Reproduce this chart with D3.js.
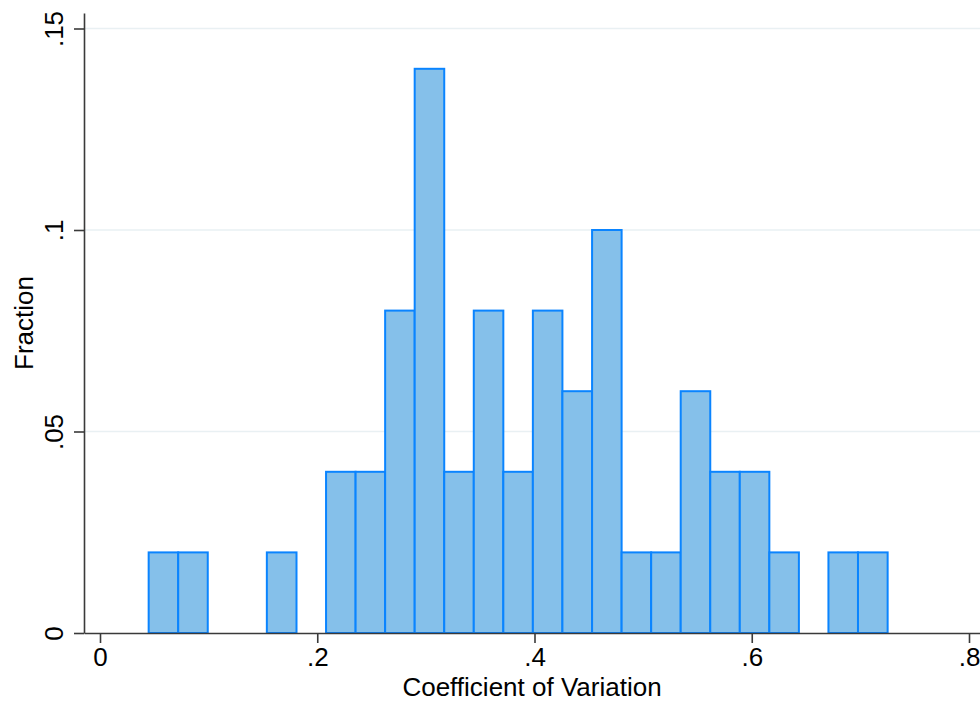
<!DOCTYPE html>
<html>
<head>
<meta charset="utf-8">
<script src="https://cdn.jsdelivr.net/npm/d3@7"></script>
<style>
  html, body { margin: 0; padding: 0; background: #fff; }
  svg { display: block; font-family: "Liberation Sans", Arial, Helvetica, sans-serif; }
</style>
</head>
<body>
<svg id="chart" width="980" height="702"></svg>
<script>
// ---- data ----
const binLower = [0.0448, 0.0720, 0.0992, 0.1264, 0.1536, 0.1809, 0.2081, 0.2353, 0.2625, 0.2897,
                  0.3169, 0.3441, 0.3713, 0.3985, 0.4257, 0.4530, 0.4802, 0.5074, 0.5346, 0.5618,
                  0.5890, 0.6162, 0.6434, 0.6706, 0.6978];
const binUpper = [0.0720, 0.0992, 0.1264, 0.1536, 0.1809, 0.2081, 0.2353, 0.2625, 0.2897, 0.3169,
                  0.3441, 0.3713, 0.3985, 0.4257, 0.4530, 0.4802, 0.5074, 0.5346, 0.5618, 0.5890,
                  0.6162, 0.6434, 0.6706, 0.6978, 0.7251];
const fraction = [0.02, 0.02, 0, 0, 0.02, 0, 0.04, 0.04, 0.08, 0.14,
                  0.04, 0.08, 0.04, 0.08, 0.06, 0.10, 0.02, 0.02, 0.06, 0.04,
                  0.04, 0.02, 0, 0.02, 0.02];
const xTicks = [0, 0.2, 0.4, 0.6, 0.8];
const yTicks = [0, 0.05, 0.1, 0.15];
const xTitle = "Coefficient of Variation";
const yTitle = "Fraction";

// ---- layout ----
const svg = d3.select("#chart");
const axisColor = "#3a3a3a";
const fillColor = "#85c0ea";
const strokeColor = "#0a84ff";
const gridColor = "#e9f0f3";
const fontSize = 26;

const x = d3.scaleLinear().domain([0, 0.8]).range([100, 969]);
const y = d3.scaleLinear().domain([0, 0.15]).range([633, 28.5]);
const plotLeft = 84, plotRight = 980, plotTop = 13, plotBottom = 633;

const fmt = d => d === 0 ? "0" : d3.format("~g")(d).replace(/^0\./, ".");

// gridlines
svg.append("g").selectAll("line")
  .data(yTicks.filter(d => d > 0))
  .join("line")
  .attr("x1", plotLeft).attr("x2", plotRight)
  .attr("y1", d => y(d)).attr("y2", d => y(d))
  .attr("stroke", gridColor).attr("stroke-width", 1.6);

// bars
const bins = binLower.map((lo, i) => ({lo, hi: binUpper[i], v: fraction[i]})).filter(b => b.v > 0);
svg.append("g").selectAll("rect")
  .data(bins)
  .join("rect")
  .attr("x", d => x(d.lo))
  .attr("width", d => x(d.hi) - x(d.lo))
  .attr("y", d => y(d.v))
  .attr("height", d => y(0) - y(d.v))
  .attr("fill", fillColor)
  .attr("stroke", strokeColor)
  .attr("stroke-width", 2);

// x axis
const xAxisScale = d3.scaleLinear().domain([x.invert(plotLeft), x.invert(plotRight)]).range([plotLeft, plotRight]);
const gx = svg.append("g").attr("transform", `translate(0,${plotBottom})`)
  .call(d3.axisBottom(xAxisScale).tickValues(xTicks).tickFormat(fmt).tickSizeInner(10).tickSizeOuter(0).tickPadding(5));
gx.select(".domain").attr("stroke", axisColor).attr("stroke-width", 1.6);
gx.selectAll(".tick line").attr("stroke", axisColor).attr("stroke-width", 1.6);
gx.selectAll(".tick text").attr("fill", "#000").style("font-size", fontSize + "px");

// y axis
const yAxisScale = d3.scaleLinear().domain([0, y.invert(plotTop)]).range([plotBottom, plotTop]);
const gy = svg.append("g").attr("transform", `translate(${plotLeft},0)`)
  .call(d3.axisLeft(yAxisScale).tickValues(yTicks).tickFormat(fmt).tickSizeInner(10).tickSizeOuter(0).tickPadding(8));
gy.select(".domain").attr("stroke", axisColor).attr("stroke-width", 1.6);
gy.selectAll(".tick line").attr("stroke", axisColor).attr("stroke-width", 1.6);
gy.selectAll(".tick text")
  .attr("fill", "#000").style("font-size", fontSize + "px")
  .attr("x", null).attr("dy", null)
  .attr("transform", "translate(-21,0) rotate(-90)")
  .attr("text-anchor", "middle");

// axis titles
svg.append("text")
  .attr("x", (plotLeft + plotRight) / 2).attr("y", 696)
  .attr("text-anchor", "middle").style("font-size", "26px").attr("fill", "#000")
  .text(xTitle);
svg.append("text")
  .attr("transform", `translate(33,${(plotTop + plotBottom) / 2}) rotate(-90)`)
  .attr("text-anchor", "middle").style("font-size", "26px").attr("fill", "#000")
  .text(yTitle);
</script>
</body>
</html>
